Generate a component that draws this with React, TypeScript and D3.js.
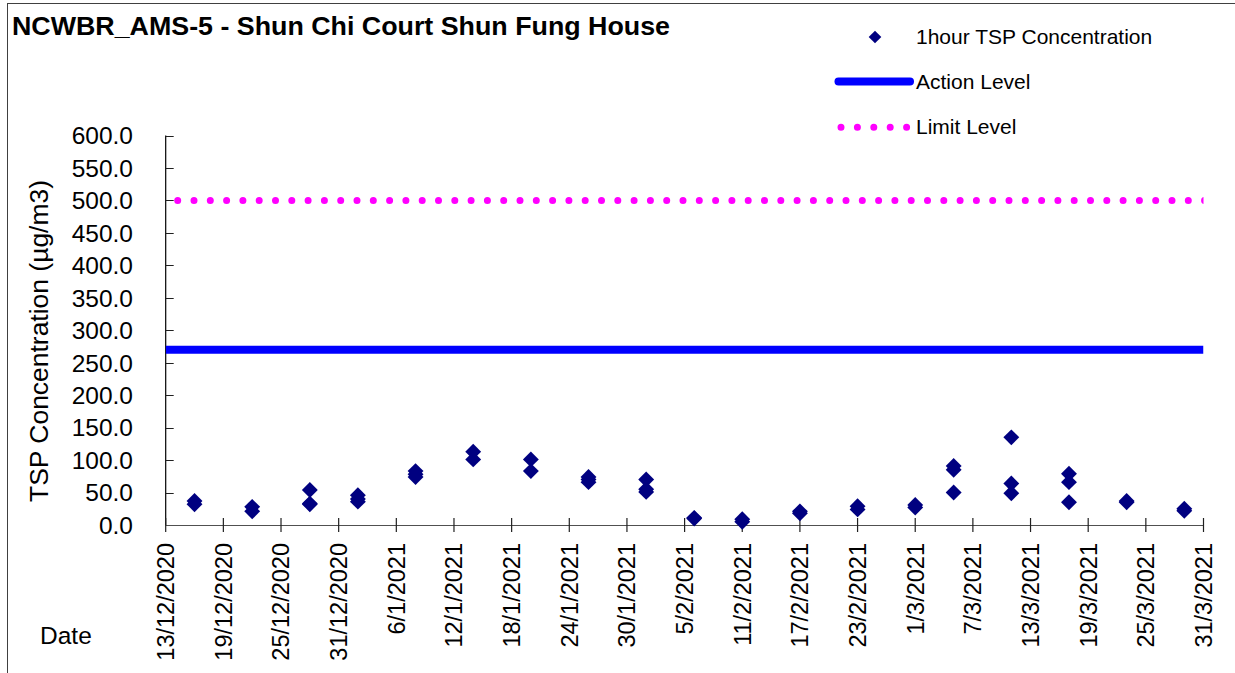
import React from "react";
import * as d3 from "d3";

// ---- data ----
const chartTitle = "NCWBR_AMS-5 - Shun Chi Court Shun Fung House";
const sampleDates = [
  "2020-12-16", "2020-12-16",
  "2020-12-22", "2020-12-22",
  "2020-12-28", "2020-12-28", "2020-12-28",
  "2021-01-02", "2021-01-02", "2021-01-02",
  "2021-01-08", "2021-01-08", "2021-01-08",
  "2021-01-14", "2021-01-14",
  "2021-01-20", "2021-01-20",
  "2021-01-26", "2021-01-26", "2021-01-26",
  "2021-02-01", "2021-02-01", "2021-02-01",
  "2021-02-06", "2021-02-06",
  "2021-02-11", "2021-02-11",
  "2021-02-17", "2021-02-17",
  "2021-02-23", "2021-02-23",
  "2021-03-01", "2021-03-01",
  "2021-03-05", "2021-03-05", "2021-03-05",
  "2021-03-11", "2021-03-11", "2021-03-11",
  "2021-03-17", "2021-03-17", "2021-03-17",
  "2021-03-23", "2021-03-23",
  "2021-03-29", "2021-03-29",
];
const tspValues = [
  37, 32,
  28, 21,
  54, 33, 32,
  46, 40, 36,
  83, 78, 74,
  113, 101,
  101, 83,
  74, 70, 66,
  70, 55, 51,
  11, 10,
  9, 5,
  21, 18,
  29, 24,
  31, 27,
  91, 85, 50,
  135, 64, 49,
  79, 66, 35,
  37, 35,
  25, 22,
];
const actionLevel = 270;
const limitLevel = 500;
const xStart = "2020-12-13";
const xEnd = "2021-03-31";
const tickDates = [
  "2020-12-13", "2020-12-19", "2020-12-25", "2020-12-31", "2021-01-06",
  "2021-01-12", "2021-01-18", "2021-01-24", "2021-01-30", "2021-02-05",
  "2021-02-11", "2021-02-17", "2021-02-23", "2021-03-01", "2021-03-07",
  "2021-03-13", "2021-03-19", "2021-03-25", "2021-03-31",
];
const tickLabels = [
  "13/12/2020", "19/12/2020", "25/12/2020", "31/12/2020", "6/1/2021",
  "12/1/2021", "18/1/2021", "24/1/2021", "30/1/2021", "5/2/2021",
  "11/2/2021", "17/2/2021", "23/2/2021", "1/3/2021", "7/3/2021",
  "13/3/2021", "19/3/2021", "25/3/2021", "31/3/2021",
];
const yTicks = [0, 50, 100, 150, 200, 250, 300, 350, 400, 450, 500, 550, 600];
const legendLabels = ["1hour TSP Concentration", "Action Level", "Limit Level"];

const W = 1235;
const H = 673;
const L = 165.7;
const R = 1203.5;
const T = 135.5;
const B = 525;
const FONT = "'Liberation Sans', Arial, sans-serif";

export default function App() {
  const parse = d3.utcParse("%Y-%m-%d");
  const x = d3.scaleUtc().domain([parse(xStart)!, parse(xEnd)!]).range([L, R]);
  const y = d3.scaleLinear().domain([0, 600]).range([B, T]);
  const fmt = d3.format(".1f");
  const diamond = d3.symbol(d3.symbolSquare, 126)()!;
  const legendDiamond = d3.symbol(d3.symbolSquare, 80)()!;

  const yLimit = y(limitLevel);
  const yAction = y(actionLevel);

  return (
    <svg
      width={W}
      height={H}
      viewBox={`0 0 ${W} ${H}`}
      style={{ position: "absolute", left: 0, top: 0, background: "#fff" }}
      fontFamily={FONT}
    >
      <defs>
        <clipPath id="plotClip">
          <rect x={L} y={0} width={R - L} height={H} />
        </clipPath>
      </defs>
      <rect x={0} y={0} width={W} height={H} fill="#fff" />
      <rect x={7.5} y={3.5} width={W + 20} height={H + 20} fill="none" stroke="#404040" strokeWidth={1} />

      <text x={12} y={35} fontSize={25} fontWeight="bold" textLength={658} lengthAdjust="spacingAndGlyphs">
        {chartTitle}
      </text>

      {/* legend */}
      <path d={legendDiamond} transform="translate(875,37) rotate(45)" fill="#000080" />
      <text x={916} y={43.5} fontSize={21}>{legendLabels[0]}</text>
      <line x1={838.5} x2={910} y1={81.5} y2={81.5} stroke="#0000FF" strokeWidth={8} strokeLinecap="round" />
      <text x={916} y={89} fontSize={21}>{legendLabels[1]}</text>
      <line x1={841} x2={910} y1={127.3} y2={127.3} stroke="#FF00FF" strokeWidth={7} strokeLinecap="round" strokeDasharray="0 16.4" />
      <text x={916} y={134} fontSize={21}>{legendLabels[2]}</text>

      {/* y axis */}
      <line x1={L} x2={L} y1={T} y2={B} stroke="#000" strokeWidth={1.2} />
      {yTicks.map((t) => (
        <g key={t}>
          <line x1={L} x2={L + 8} y1={Math.round(y(t)) + 0.5} y2={Math.round(y(t)) + 0.5} stroke="#202020" strokeWidth={1} />
          <text x={133} y={y(t)} dy="0.36em" fontSize={24.5} textAnchor="end">{fmt(t)}</text>
        </g>
      ))}
      <text
        transform={`translate(48,${341}) rotate(-90)`}
        fontSize={25}
        textAnchor="middle"
        textLength={322}
        lengthAdjust="spacingAndGlyphs"
      >
        TSP Concentration (µg/m3)
      </text>

      {/* x axis */}
      <line x1={L} x2={R} y1={B + 0.5} y2={B + 0.5} stroke="#505050" strokeWidth={1.2} />
      {tickDates.map((d, i) => {
        const tx = x(parse(d)!);
        return (
          <g key={d}>
            <line x1={tx} x2={tx} y1={B - 7} y2={B + 7} stroke="#202020" strokeWidth={1.2} />
            <text
              transform={`translate(${tx},543) rotate(-90)`}
              dy="0.36em"
              fontSize={23.5}
              textAnchor="end"
            >
              {tickLabels[i]}
            </text>
          </g>
        );
      })}
      <text x={40} y={644} fontSize={24.5}>Date</text>

      {/* reference lines */}
      <g clipPath="url(#plotClip)">
        <line x1={L} x2={R} y1={yAction} y2={yAction} stroke="#0000FF" strokeWidth={8} />
        <line x1={177.7} x2={R + 10} y1={yLimit} y2={yLimit} stroke="#FF00FF" strokeWidth={7} strokeLinecap="round" strokeDasharray="0 16.3" />
      </g>

      {/* data */}
      {sampleDates.map((d, i) => (
        <path
          key={i}
          d={diamond}
          transform={`translate(${x(parse(d)!)},${y(tspValues[i])}) rotate(45)`}
          fill="#000080"
        />
      ))}
    </svg>
  );
}
